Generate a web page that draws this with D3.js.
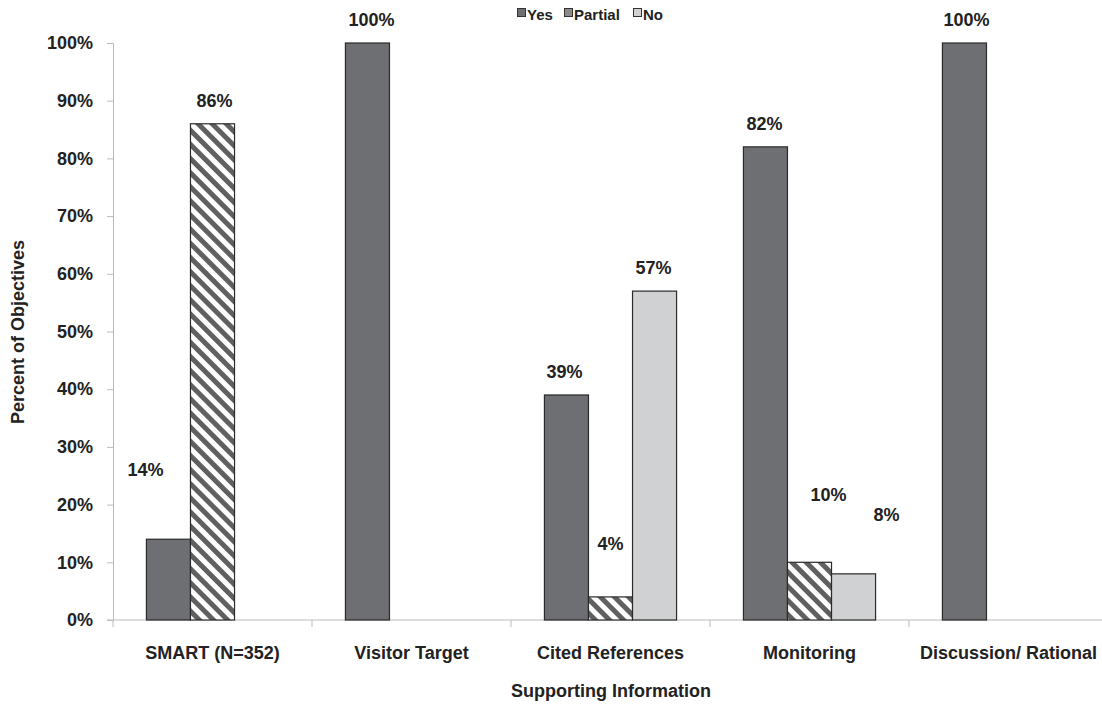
<!DOCTYPE html>
<html><head><meta charset="utf-8">
<script src="https://cdn.jsdelivr.net/npm/d3@7"></script>
<style>body{margin:0;background:#fff}svg{display:block;font-family:"Liberation Sans",Arial,sans-serif;font-weight:bold}</style>
</head><body>
<svg id="c" width="1102" height="706"></svg>
<script>
const categories = ["SMART (N=352)", "Visitor Target", "Cited References", "Monitoring", "Discussion/ Rational"];
const seriesNames = ["Yes", "Partial", "No"];
const yesValues = [14, 100, 39, 82, 100];
const partialValues = [86, null, 4, 10, null];
const noValues = [null, null, 57, 8, null];
const yTicks = [0, 10, 20, 30, 40, 50, 60, 70, 80, 90, 100];
// label nudges (dx, dy from default above-bar position) for each series/category
const labelNudges = {
  Yes: [[-23, -46], [4, 0], [-2, 0], [-1, 0], [2, 0]],
  Partial: [[2, 0], [0, 0], [0, -30], [19, -44], [0, 0]],
  No: [[0, 0], [0, 0], [-1, 0], [33, -36], [0, 0]]
};

const seriesValues = {Yes: yesValues, Partial: partialValues, No: noValues};
const svg = d3.select("#c");
const defs = svg.append("defs");
const pat = defs.append("pattern").attr("id", "hatch").attr("patternUnits", "userSpaceOnUse")
  .attr("width", 10).attr("height", 10).attr("patternTransform", "rotate(-45)");
pat.append("rect").attr("width", 10).attr("height", 10).attr("fill", "#fff");
pat.append("rect").attr("width", 5).attr("height", 10).attr("fill", "#606060");

const fills = {Yes: "#6e6f72", Partial: "url(#hatch)", No: "#d0d1d3"};
const legendFills = {Yes: "#6e6f72", Partial: "#8a8a8a", No: "#d0d1d3"};

const x0 = d3.scaleBand().domain(categories).range([113, 1108]).paddingInner(0.336).paddingOuter(0.168);
const x1 = d3.scaleBand().domain(seriesNames).range([0, x0.bandwidth()]);
const y = d3.scaleLinear().domain([0, 100]).range([620, 43]);

// y axis
const yAxis = svg.append("g").attr("transform", "translate(113,0)")
  .call(d3.axisLeft(y).tickValues(yTicks).tickFormat(d => d + "%").tickSize(6).tickPadding(14));
yAxis.select(".domain").attr("stroke", "#bbb");
yAxis.selectAll(".tick line").attr("stroke", "#bbb");
yAxis.selectAll(".tick text").attr("font-size", 18).attr("font-weight", "bold").attr("fill", "#222")
  .attr("font-family", "Liberation Sans, Arial, sans-serif");

// x axis
const xAxisG = svg.append("g").attr("transform", "translate(0,620)");
xAxisG.append("line").attr("x1", 107).attr("x2", 1102).attr("y1", 0).attr("y2", 0).attr("stroke", "#bbb");
const bounds = categories.map(c => x0(c) - x0.step() * x0.paddingInner() / 2);
xAxisG.selectAll("line.tk").data(bounds).join("line").attr("class", "tk")
  .attr("x1", d => d).attr("x2", d => d).attr("y1", 0).attr("y2", 7).attr("stroke", "#bbb");
xAxisG.selectAll("text").data(categories).join("text")
  .attr("x", d => x0(d) + x0.bandwidth() / 2).attr("y", 39).attr("text-anchor", "middle")
  .attr("font-size", 18).attr("fill", "#222").text(d => d);

// bars
const bars = [];
seriesNames.forEach(s => categories.forEach((c, i) => {
  const v = seriesValues[s][i];
  if (v != null) bars.push({s, c, i, v});
}));
svg.append("g").selectAll("rect").data(bars).join("rect")
  .attr("x", d => x0(d.c) + x1(d.s)).attr("width", x1.bandwidth())
  .attr("y", d => y(d.v)).attr("height", d => y(0) - y(d.v))
  .attr("fill", d => fills[d.s]).attr("stroke", "#2a2a2a").attr("stroke-width", 1.2);

svg.append("g").selectAll("text").data(bars).join("text")
  .attr("x", d => x0(d.c) + x1(d.s) + x1.bandwidth() / 2 + labelNudges[d.s][d.i][0])
  .attr("y", d => y(d.v) - 17 + labelNudges[d.s][d.i][1])
  .attr("text-anchor", "middle").attr("font-size", 18).attr("fill", "#222")
  .text(d => d.v + "%");

// titles
svg.append("text").attr("transform", "translate(24,332) rotate(-90)").attr("text-anchor", "middle")
  .attr("font-size", 18).attr("fill", "#222").text("Percent of Objectives");
svg.append("text").attr("x", 611).attr("y", 697).attr("text-anchor", "middle")
  .attr("font-size", 18).attr("fill", "#222").text("Supporting Information");

// legend
const leg = svg.append("g").attr("transform", "translate(517,5)");
const legX = [0, 47, 116];
seriesNames.forEach((s, i) => {
  const g = leg.append("g").attr("transform", `translate(${legX[i]},0)`);
  g.append("rect").attr("x", 0.5).attr("y", 3.5).attr("width", 8).attr("height", 8)
    .attr("fill", legendFills[s]).attr("stroke", "#333");
  g.append("text").attr("x", 10).attr("y", 15).attr("font-size", 15).attr("fill", "#222").text(s);
});
</script>
</body></html>
